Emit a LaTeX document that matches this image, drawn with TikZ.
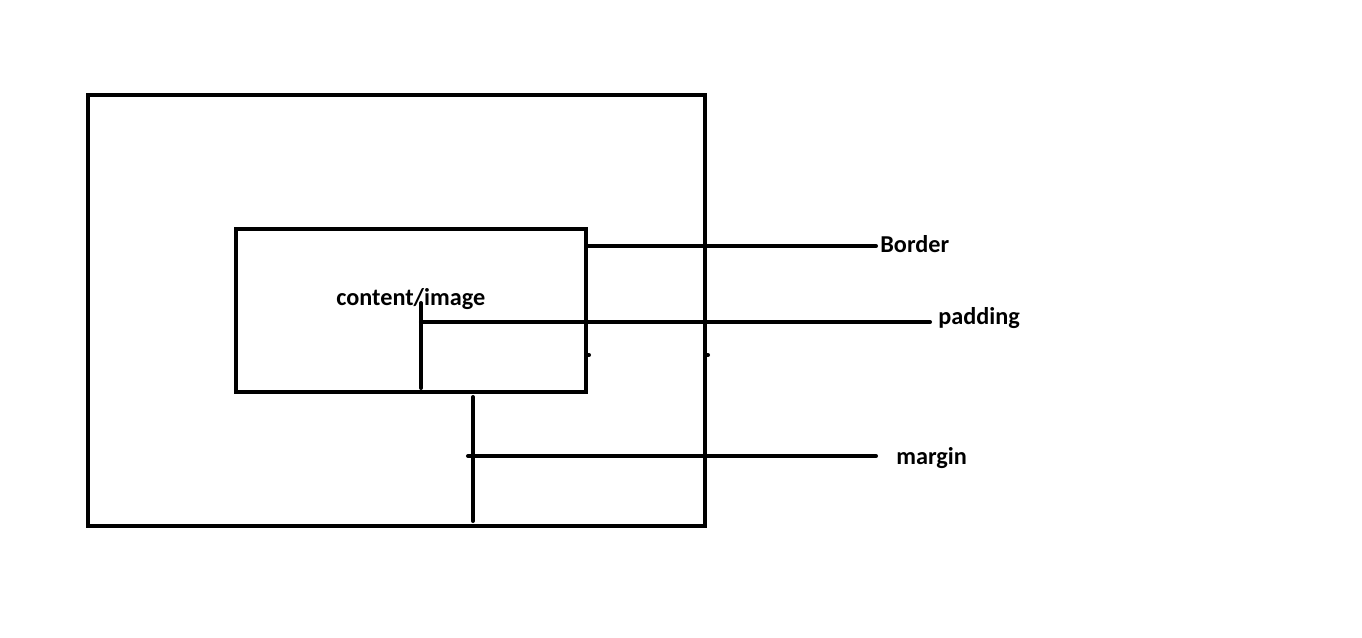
\documentclass[tikz,border=0pt]{standalone}
\usepackage{fontspec}
\setmainfont{Carlito}
\usetikzlibrary{positioning}

\begin{document}
\begin{tikzpicture}[x=0.02cm,y=-0.02cm]
\tikzstyle{box} = [draw, line width=2.3pt]
\tikzstyle{lead} = [line width=2.3pt, line cap=round]
\tikzstyle{tag} = [font=\bfseries\fontsize{13.8}{16}\selectfont, inner sep=0pt, anchor=base west]
\useasboundingbox (0,0) rectangle (1362,638);
% margin box and content box
\draw[box] (88,95) rectangle (705,526);
\draw[box] (236,229) rectangle (586,392);
\node[tag] (content) at (336,306) {content/image};
% labels
\node[tag] (border) at (880,253) {Border};
\node[tag] (padding) at (938,325) {padding};
\node[tag] (margin) at (896,464) {margin};
\coordinate (b0) at (588,246);
\coordinate (p0) at (421,322);
\coordinate (m0) at (468,456);
\draw[lead] (b0) -- ([xshift=-4*0.02cm]border.west |- b0);
\draw[lead] (p0) -- ([xshift=-8*0.02cm]padding.west |- p0);
\draw[lead] (m0) -- ([xshift=-20*0.02cm]margin.west |- m0);
% ticks
\draw[lead] (421,303) -- (421,388);
\draw[lead] (473,397) -- (473,521);
\draw[lead] (588,355) -- (589,355);
\draw[lead] (707,355) -- (708,355);
\end{tikzpicture}
\end{document}
